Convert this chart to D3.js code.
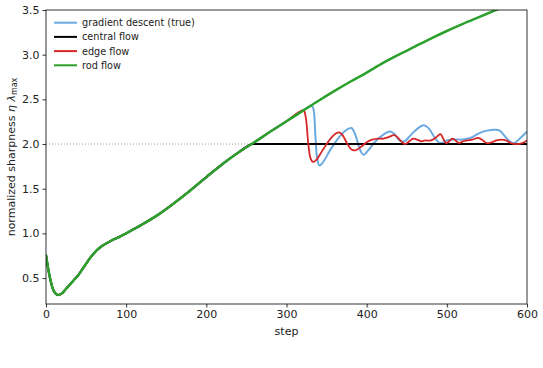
<!DOCTYPE html>
<html>
<head>
<meta charset="utf-8">
<script src="https://cdn.jsdelivr.net/npm/d3@7"></script>
<style>
  body { margin: 0; background: #fff; }
  text { font-family: "DejaVu Sans", sans-serif; }
</style>
</head>
<body>
<div id="chart"></div>
<script>
// rod flow (green) - the smooth path everything else follows at first
var rodSteps = [0, 5, 10, 15, 20, 25, 30, 35, 40, 45, 50, 55, 60, 65, 70, 80, 90, 100, 110, 120, 140, 160, 180, 200, 220, 240, 260, 280, 300, 320, 340, 360, 380, 400, 420, 440, 460, 480, 500, 520, 540, 560, 580, 600];
var rodVals  = [0.76, 0.50, 0.35, 0.31, 0.33, 0.38, 0.43, 0.48, 0.53, 0.595, 0.66, 0.725, 0.78, 0.825, 0.86, 0.912, 0.955, 1.00, 1.05, 1.10, 1.21, 1.34, 1.48, 1.63, 1.775, 1.905, 2.02, 2.14, 2.255, 2.37, 2.485, 2.595, 2.70, 2.80, 2.905, 3.00, 3.09, 3.18, 3.265, 3.345, 3.42, 3.495, 3.57, 3.64];

// central flow: follows rod flow, then sticks at 2
var centralStart = 258;
var centralLevel = 2.0;

// gradient descent (true) after it leaves the rod flow
var gdSteps = [325, 330, 333, 336, 338, 341, 345, 355, 365, 375, 381, 386, 392, 396, 402, 410, 420, 429, 435, 441, 447, 455, 463, 471, 478, 485, 492, 500, 510, 520, 530, 540, 550, 560, 566, 574, 583, 592, 600];
var gdVals  = [2.40, 2.43, 2.41, 2.10, 1.86, 1.76, 1.79, 1.94, 2.07, 2.16, 2.18, 2.10, 1.93, 1.88, 1.93, 2.02, 2.10, 2.14, 2.11, 2.04, 2.03, 2.10, 2.17, 2.21, 2.17, 2.07, 2.01, 2.04, 2.05, 2.05, 2.07, 2.12, 2.15, 2.16, 2.15, 2.07, 2.01, 2.07, 2.14];

// edge flow after it leaves the rod flow
var edgeSteps = [321, 324, 327, 330, 333, 337, 345, 355, 362, 366, 370, 376, 381, 386, 393, 400, 407, 414, 421, 428, 434, 438, 443, 448, 453, 458, 463, 468, 473, 480, 486, 492, 496, 499, 503, 507, 511, 515, 520, 525, 532, 539, 545, 550, 556, 562, 568, 574, 580, 587, 594, 600];
var edgeVals  = [2.38, 2.30, 2.02, 1.84, 1.80, 1.82, 1.93, 2.06, 2.12, 2.13, 2.10, 2.00, 1.94, 1.93, 1.97, 2.02, 2.05, 2.06, 2.06, 2.08, 2.10, 2.08, 2.03, 2.00, 2.03, 2.06, 2.05, 2.03, 2.04, 2.04, 2.07, 2.11, 2.05, 2.01, 2.03, 2.06, 2.04, 2.01, 2.03, 2.04, 2.05, 2.07, 2.04, 2.01, 2.02, 2.04, 2.05, 2.04, 2.01, 2.00, 2.01, 2.04];

var xTicks = [0, 100, 200, 300, 400, 500, 600];
var yTicks = [0.5, 1.0, 1.5, 2.0, 2.5, 3.0, 3.5];

var legendNames  = ["gradient descent (true)", "central flow", "edge flow", "rod flow"];
var legendColors = ["#6aaae0", "#000000", "#d62728", "#2ca02c"];

var width = 543, height = 368;
var margin = {top: 10, right: 16, bottom: 64, left: 46};
var iw = width - margin.left - margin.right,
    ih = height - margin.top - margin.bottom;

var svg = d3.select("#chart").append("svg")
    .attr("width", width)
    .attr("height", height);

var x = d3.scaleLinear().domain([0, 600]).range([0, iw]);
var y = d3.scaleLinear().domain([0.21, 3.5]).range([ih, 0]);

var g = svg.append("g")
    .attr("transform", "translate(" + margin.left + "," + margin.top + ")");

g.append("clipPath").attr("id", "clip")
  .append("rect").attr("width", iw).attr("height", ih);

// helper to zip steps and values
function zip(s, v) {
    return s.map(function(d, i) { return {step: d, val: v[i]}; });
}

var rod = zip(rodSteps, rodVals);
function prefix(upTo) {
    return rod.filter(function(d) { return d.step < upTo - 8; });
}
var gd = prefix(gdSteps[0]).concat(zip(gdSteps, gdVals));
var edge = prefix(edgeSteps[0]).concat(zip(edgeSteps, edgeVals));
var central = prefix(centralStart + 8)
    .concat([{step: centralStart, val: centralLevel}, {step: 600, val: centralLevel}]);

var smooth = d3.line()
    .x(function(d) { return x(d.step); })
    .y(function(d) { return y(d.val); })
    .curve(d3.curveCatmullRom.alpha(0.5));
var mono = d3.line()
    .x(function(d) { return x(d.step); })
    .y(function(d) { return y(d.val); })
    .curve(d3.curveMonotoneX);

var plot = g.append("g").attr("clip-path", "url(#clip)");

// dotted reference at 2
plot.append("line")
    .attr("x1", 0).attr("x2", iw)
    .attr("y1", y(2)).attr("y2", y(2))
    .attr("stroke", "#999")
    .attr("stroke-width", 1)
    .attr("stroke-dasharray", "1,2");

var series = [
    {data: gd, color: legendColors[0], w: 2.0, gen: smooth},
    {data: central, color: legendColors[1], w: 2.0, gen: mono},
    {data: edge, color: legendColors[2], w: 1.8, gen: smooth},
    {data: rod, color: legendColors[3], w: 2.5, gen: smooth}
];

plot.selectAll("path.series")
    .data(series)
    .enter()
    .append("path")
    .attr("class", "series")
    .attr("fill", "none")
    .attr("stroke", function(d) { return d.color; })
    .attr("stroke-width", function(d) { return d.w; })
    .attr("stroke-linejoin", "round")
    .attr("d", function(d) { return d.gen(d.data); });

// axes
var xAxis = g.append("g")
    .attr("transform", "translate(0," + ih + ")")
    .call(d3.axisBottom(x).tickValues(xTicks).tickSize(3.5).tickPadding(3).tickFormat(d3.format("d")));
var yAxis = g.append("g")
    .call(d3.axisLeft(y).tickValues(yTicks).tickSize(3.5).tickPadding(3).tickFormat(d3.format(".1f")));

[xAxis, yAxis].forEach(function(a) {
    a.select(".domain").remove();
    a.selectAll("line").attr("stroke", "#000").attr("stroke-width", 0.8);
    a.selectAll("text").attr("fill", "#222").style("font-size", "11px")
        .style("font-family", "DejaVu Sans, sans-serif");
});

// frame
g.append("rect")
    .attr("width", iw).attr("height", ih)
    .attr("fill", "none")
    .attr("stroke", "#000")
    .attr("stroke-width", 0.8);

// axis labels
g.append("text")
    .attr("x", iw / 2).attr("y", ih + 31)
    .attr("text-anchor", "middle")
    .style("font-size", "11px")
    .attr("fill", "#222")
    .text("step");

var yl = svg.append("text")
    .attr("transform", "translate(15," + (margin.top + ih / 2) + ") rotate(-90)")
    .attr("text-anchor", "middle")
    .style("font-size", "11px")
    .attr("fill", "#222");
yl.append("tspan").text("normalized sharpness  ");
yl.append("tspan").style("font-style", "italic").text("η λ");
yl.append("tspan").attr("baseline-shift", "-25%").style("font-size", "8px").text("max");

// legend
var leg = g.append("g").attr("transform", "translate(8,12.7)");
var items = leg.selectAll("g")
    .data(legendNames)
    .enter()
    .append("g")
    .attr("transform", function(d, i) { return "translate(0," + (i * 14.2) + ")"; });
items.append("line")
    .attr("x1", 0).attr("x2", 23)
    .attr("stroke", function(d, i) { return legendColors[i]; })
    .attr("stroke-width", 2);
items.append("text")
    .attr("x", 28).attr("dy", "0.35em")
    .style("font-size", "9.7px")
    .attr("fill", "#222")
    .text(function(d) { return d; });
</script>
</body>
</html>
